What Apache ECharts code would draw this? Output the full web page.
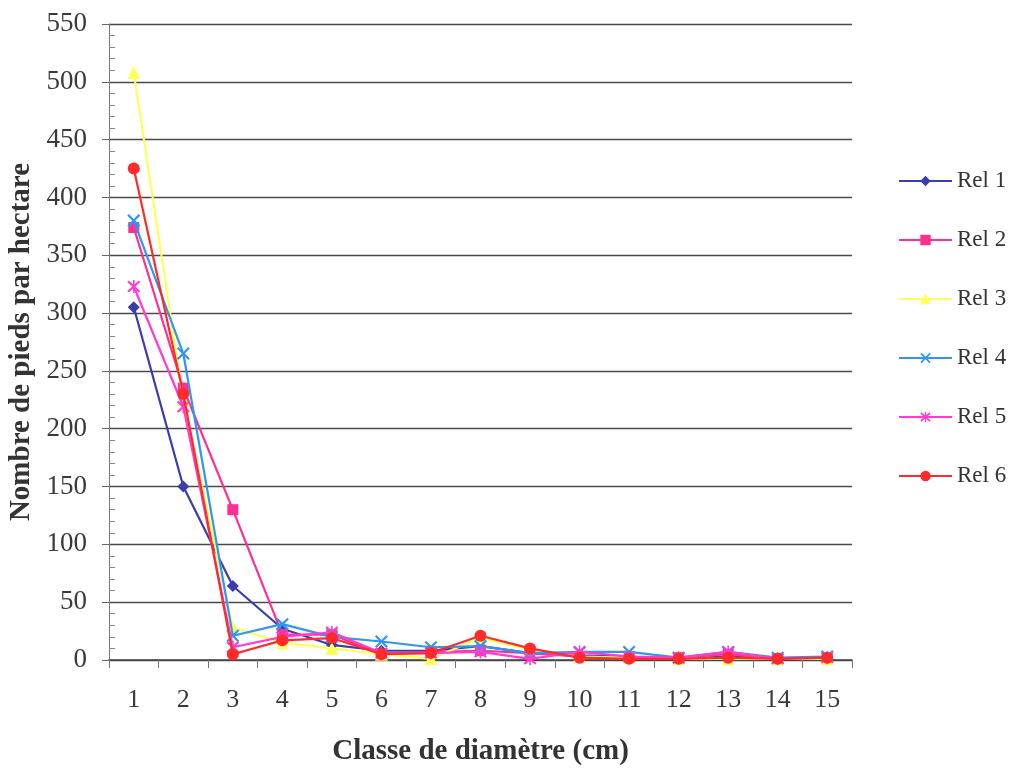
<!DOCTYPE html>
<html>
<head>
<meta charset="utf-8">
<script src="https://cdn.jsdelivr.net/npm/echarts@6/dist/echarts.min.js"></script>
<style>
  html, body { margin: 0; padding: 0; background: #ffffff; }
  #chart { width: 1016px; height: 768px; }
</style>
</head>
<body>
<div id="chart"></div>
<script>
// Diameter classes (cm)
const categories = ['1','2','3','4','5','6','7','8','9','10','11','12','13','14','15'];

// Stems per hectare for each relevé
const rel1 = [305, 150, 64, 27, 13, 8, 8, 12, 6, 4, 3, 1, 3, 1, 2];
const rel2 = [374, 235, 130, 22, 22, 5, 7, 8, 6, 3, 2, 2, 5, 1, 1];
const rel3 = [508, 225, 28, 15, 10, 5, 1, 19, 9, 3, 2, 1, 1, 1, 1];
const rel4 = [380, 265, 21, 31, 20, 16, 11, 12, 6, 7, 7, 2, 7, 2, 3];
const rel5 = [323, 219, 11, 20, 24, 6, 6, 7, 1, 7, 3, 2, 7, 1, 2];
const rel6 = [425, 230, 5, 17, 19, 5, 6, 21, 10, 2, 1, 1, 2, 1, 2];

const seriesNames = ['Rel 1', 'Rel 2', 'Rel 3', 'Rel 4', 'Rel 5', 'Rel 6'];
const seriesData = [rel1, rel2, rel3, rel4, rel5, rel6];
const colors = ['#3b3cb0', '#ff2f92', '#ffff5a', '#2f96f5', '#ff3ccf', '#ff2a2a'];

// Marker shapes: diamond, square, triangle, cross, asterisk, circle
const crossPath = 'path://M0,1.2 L1.2,0 L5,3.8 L8.8,0 L10,1.2 L6.2,5 L10,8.8 L8.8,10 L5,6.2 L1.2,10 L0,8.8 L3.8,5 Z';
const starPath = 'path://M0,1.2 L1.2,0 L5,3.8 L8.8,0 L10,1.2 L6.2,5 L10,8.8 L8.8,10 L5,6.2 L1.2,10 L0,8.8 L3.8,5 Z M4.4,-0.5 L5.6,-0.5 L5.6,10.5 L4.4,10.5 Z';
const symbols = ['diamond', 'rect', 'triangle', crossPath, starPath, 'circle'];
const symbolSizes = [12, 11, 13, 13, 13, 12];

const serif = '"Liberation Serif", "DejaVu Serif", serif';

const chart = echarts.init(document.getElementById('chart'));

chart.setOption({
  backgroundColor: '#ffffff',
  animation: false,
  grid: {
    left: 109, right: 164, top: 24, bottom: 108,
    containLabel: false,
    outerBoundsMode: 'none'
  },
  legend: {
    orient: 'vertical',
    left: 893,
    top: 164,
    itemWidth: 53,
    itemHeight: 13,
    itemGap: 35,
    data: seriesNames,
    textStyle: { fontFamily: serif, fontSize: 23, lineHeight: 24, color: '#333333', padding: [0, 0, 0, 0] }
  },
  xAxis: {
    type: 'category',
    data: categories,
    boundaryGap: true,
    name: 'Classe de diamètre (cm)',
    nameLocation: 'middle',
    nameGap: 77,
    nameTextStyle: { fontFamily: serif, fontSize: 29, fontWeight: 'bold', color: '#333333' },
    axisLine: { lineStyle: { color: '#444444', width: 1.5 } },
    axisTick: { show: true, alignWithLabel: false, length: 8, lineStyle: { color: '#777777' } },
    axisLabel: { fontFamily: serif, fontSize: 26, color: '#3a3a3a', margin: 27 },
    splitLine: { show: false }
  },
  yAxis: {
    type: 'value',
    min: 0,
    max: 550,
    interval: 50,
    name: 'Nombre de pieds par hectare',
    nameLocation: 'middle',
    nameGap: 71,
    nameTextStyle: { fontFamily: serif, fontSize: 29, fontWeight: 'bold', color: '#333333' },
    axisLine: { show: true, lineStyle: { color: '#777777', width: 1 } },
    axisTick: { show: true, length: 7, lineStyle: { color: '#666666' } },
    minorTick: { show: true, splitNumber: 5, length: -6, lineStyle: { color: '#888888' } },
    axisLabel: { fontFamily: serif, fontSize: 27, color: '#3a3a3a', margin: 22 },
    splitLine: { show: true, lineStyle: { color: '#4a4a4a', width: 1.3 } }
  },
  series: seriesNames.map((name, i) => ({
    name: name,
    type: 'line',
    data: seriesData[i],
    symbol: symbols[i],
    symbolSize: symbolSizes[i],
    showSymbol: true,
    lineStyle: { color: colors[i], width: 2.2 },
    itemStyle: { color: colors[i] },
    z: 2 + i
  }))
});
</script>
</body>
</html>
